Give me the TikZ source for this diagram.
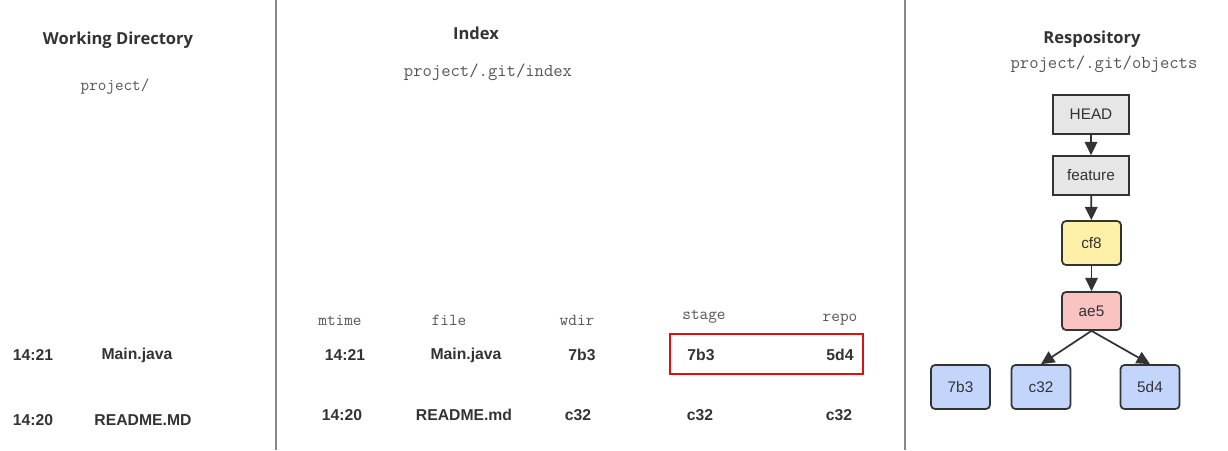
\documentclass[tikz,border=0pt]{standalone}
\usepackage{fontspec}
\setmainfont{Liberation Sans}
\newfontfamily\titlefont{Open Sans}
\newfontfamily\monofont{Latin Modern Mono}
\usetikzlibrary{arrows.meta}
\definecolor{txt}{HTML}{333333}
\definecolor{linegray}{HTML}{888888}
\definecolor{mono}{HTML}{555555}
\definecolor{headfill}{HTML}{E6E6E6}
\definecolor{yellowfill}{HTML}{FFF0A8}
\definecolor{redfill}{HTML}{F8C3C0}
\definecolor{bluefill}{HTML}{C3D5FB}
\definecolor{redbox}{HTML}{DD1111}
\tikzset{
  title/.style={font=\titlefont\bfseries\fontsize{12.4}{14}\selectfont, text=txt},
  path/.style={font=\monofont\fontsize{12.5}{14}\selectfont, text=mono},
  hdr/.style={font=\monofont\fontsize{12.6}{14}\selectfont, text=mono},
  cell/.style={font=\bfseries\fontsize{11.8}{13}\selectfont, text=txt},
  obj/.style={draw=txt, line width=1.3pt, minimum width=57pt, minimum height=29.25pt, inner sep=0pt, font=\fontsize{11.5}{13}\selectfont, text=txt},
  rnd/.style={obj, rounded corners=3pt, minimum width=44.25pt, minimum height=33pt},
  conn/.style={draw=txt, line width=1.3pt, -{Triangle[length=10pt,width=9.5pt]}}
}
\begin{document}
\begin{tikzpicture}[x=0.75pt,y=-0.75pt]
\useasboundingbox (0,0) rectangle (1228,450);
\fill[white] (0,0) rectangle (1228,450);
% separators
\coordinate (s1t) at (276,0); \coordinate (s1b) at (276,450);
\coordinate (s2t) at (905,0); \coordinate (s2b) at (905,450);
\draw[linegray, line width=0.8pt] (s1t) -- (s1b);
\draw[linegray, line width=0.8pt] (s2t) -- (s2b);
% titles
\node[title] (t1) at (118,40) {Working Directory};
\node[title] (t2) at (476,33) {Index};
\node[title] (t3) at (1092,39) {Respository};
\node[path] (p1) at (115,87) {project/};
\node[path, font=\monofont\fontsize{13.6}{15}\selectfont] (p2) at (488,72) {project/.git/index};
\node[path, font=\monofont\fontsize{13.6}{15}\selectfont] (p3) at (1104,64) {project/.git/objects};
% working dir rows
\node[cell] (w11) at (33,355) {14:21};
\node[cell] (w12) at (137,355) {Main.java};
\node[cell] (w21) at (33,420) {14:20};
\node[cell] (w22) at (143,420) {README.MD};
% index header
\node[hdr] (h1) at (340,320) {mtime};
\node[hdr] (h2) at (449,320) {file};
\node[hdr] (h3) at (577,320) {wdir};
\node[hdr] (h4) at (704,317) {stage};
\node[hdr] (h5) at (840,320) {repo};
% index rows
\node[cell] (i11) at (345,355) {14:21};
\node[cell] (i12) at (466,355) {Main.java};
\node[cell] (i13) at (582,355) {7b3};
\node[cell] (i14) at (701,355) {7b3};
\node[cell] (i15) at (840,355) {5d4};
\node[cell] (i21) at (342,415) {14:20};
\node[cell] (i22) at (464,415) {README.md};
\node[cell] (i23) at (578,415) {c32};
\node[cell] (i24) at (700,415) {c32};
\node[cell] (i25) at (839,415) {c32};
\node[draw=redbox, line width=1.5pt, inner sep=0pt, minimum width=144.75pt, minimum height=30pt] (hl) at (766.5,354) {};
% repository
\node[obj, fill=headfill] (head) at (1091,114.5) {HEAD};
\node[obj, fill=headfill] (feat) at (1091,175.5) {feature};
\node[rnd, fill=yellowfill] (cf8) at (1091.5,243) {cf8};
\node[rnd, fill=redfill, minimum height=28.5pt] (ae5) at (1091.5,311) {ae5};
\node[rnd, fill=bluefill] (b7) at (960.5,387) {7b3};
\node[rnd, fill=bluefill] (c32) at (1041,387) {c32};
\node[rnd, fill=bluefill] (d54) at (1150,387) {5d4};
\draw[conn] (head) -- (feat);
\draw[conn] (feat) -- (cf8);
\draw[conn] (cf8) -- (ae5);
\draw[conn] (ae5.south) -- (c32.north);
\draw[conn] (ae5.south) -- (d54.north);
\end{tikzpicture}
\end{document}
